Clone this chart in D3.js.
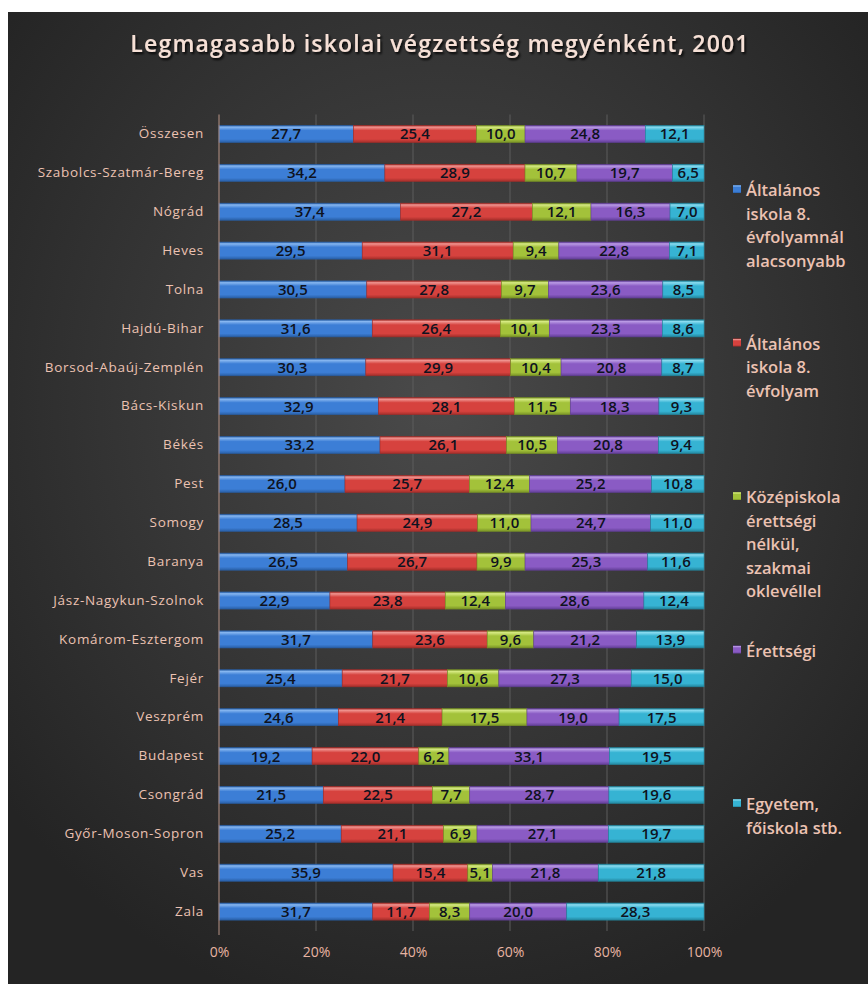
<!DOCTYPE html>
<html>
<head>
<meta charset="utf-8">
<script src="https://cdn.jsdelivr.net/npm/d3@7"></script>
<style>
  body { margin:0; background:#fff; }
  svg { display:block; }
</style>
</head>
<body>
<div id="chart"></div>
<script>
(function(){

	// megyék (felülről lefelé)
	var categories = ["Összesen","Szabolcs-Szatmár-Bereg","Nógrád","Heves","Tolna","Hajdú-Bihar",
		"Borsod-Abaúj-Zemplén","Bács-Kiskun","Békés","Pest","Somogy","Baranya",
		"Jász-Nagykun-Szolnok","Komárom-Esztergom","Fejér","Veszprém","Budapest",
		"Csongrád","Győr-Moson-Sopron","Vas","Zala"];

	var alapfokAlatt = [27.7,34.2,37.4,29.5,30.5,31.6,30.3,32.9,33.2,26.0,28.5,26.5,22.9,31.7,25.4,24.6,19.2,21.5,25.2,35.9,31.7];
	var alapfok      = [25.4,28.9,27.2,31.1,27.8,26.4,29.9,28.1,26.1,25.7,24.9,26.7,23.8,23.6,21.7,21.4,22.0,22.5,21.1,15.4,11.7];
	var szakmai      = [10.0,10.7,12.1, 9.4, 9.7,10.1,10.4,11.5,10.5,12.4,11.0, 9.9,12.4, 9.6,10.6,17.5, 6.2, 7.7, 6.9, 5.1, 8.3];
	var erettsegi    = [24.8,19.7,16.3,22.8,23.6,23.3,20.8,18.3,20.8,25.2,24.7,25.3,28.6,21.2,27.3,19.0,33.1,28.7,27.1,21.8,20.0];
	var egyetem      = [12.1, 6.5, 7.0, 7.1, 8.5, 8.6, 8.7, 9.3, 9.4,10.8,11.0,11.6,12.4,13.9,15.0,17.5,19.5,19.6,19.7,21.8,28.3];

	var seriesKeys = ["a","b","c","d","e"];
	var seriesLabels = [
		["Általános","iskola 8.","évfolyamnál","alacsonyabb"],
		["Általános","iskola 8.","évfolyam"],
		["Középiskola","érettségi","nélkül,","szakmai","oklevéllel"],
		["Érettségi"],
		["Egyetem,","főiskola stb."]
	];
	var xTicks = [0,0.2,0.4,0.6,0.8,1];

	// [alap, világos, sötét]
	var colors = [
		["#3c7ed6","#86b6f0","#295fa6"],
		["#d6423e","#f09490","#a42e2a"],
		["#a3c23a","#d6ea82","#7a9426"],
		["#8a5bc4","#b99ae4","#633f98"],
		["#36b3d3","#8adcf0","#23879f"]
	];

	var width = 868, height = 984;

	var rows = categories.map(function(c,i){
		return {cat:c, a:alapfokAlatt[i], b:alapfok[i], c:szakmai[i], d:erettsegi[i], e:egyetem[i]};
	});

	var svg = d3.select("div#chart").append("svg")
		.attr("width",width)
		.attr("height",height);

	var defs = svg.append("defs");

	var bg = defs.append("radialGradient").attr("id","bg")
		.attr("cx","50%").attr("cy","40%").attr("r","65%");
	bg.append("stop").attr("offset","0%").attr("stop-color","#4a4a4a");
	bg.append("stop").attr("offset","100%").attr("stop-color","#242424");

	colors.forEach(function(c,i){
		var g = defs.append("linearGradient").attr("id","g"+i)
			.attr("x1",0).attr("y1",0).attr("x2",0).attr("y2",1);
		g.append("stop").attr("offset","0%").attr("stop-color",c[2]);
		g.append("stop").attr("offset","10%").attr("stop-color",c[1]);
		g.append("stop").attr("offset","30%").attr("stop-color",c[0]);
		g.append("stop").attr("offset","80%").attr("stop-color",c[0]);
		g.append("stop").attr("offset","100%").attr("stop-color",c[2]);
	});

	var sh = defs.append("filter").attr("id","shadow")
		.attr("x","-5%").attr("y","-20%").attr("width","110%").attr("height","150%");
	sh.append("feDropShadow").attr("dx",1.5).attr("dy",2).attr("stdDeviation",1.2)
		.attr("flood-color","#000").attr("flood-opacity",0.9);

	svg.append("rect")
		.attr("x",8).attr("y",12)
		.attr("width",width-8).attr("height",height-12)
		.attr("fill","url(#bg)");

	svg.append("text")
		.attr("x",440).attr("y",52)
		.attr("text-anchor","middle")
		.attr("font-family","'Open Sans', sans-serif")
		.attr("font-weight","600")
		.attr("font-size",23)
		.attr("letter-spacing",1.2)
		.attr("fill","#f6e0d6")
		.attr("filter","url(#shadow)")
		.text("Legmagasabb iskolai végzettség megyénként, 2001");

	var x = d3.scaleLinear().domain([0,1]).range([219,704]);
	var y = d3.scaleBand().domain(categories).range([114.5,931])
		.paddingInner(0.56).paddingOuter(0.28);

	// rácsvonalak
	svg.append("g").selectAll("line")
		.data(xTicks.slice(1))
		.enter().append("line")
		.attr("x1",function(d){ return x(d); })
		.attr("x2",function(d){ return x(d); })
		.attr("y1",114.5).attr("y2",931)
		.attr("stroke","#5c5c5c").attr("stroke-width",1);

	var stack = d3.stack().keys(seriesKeys).offset(d3.stackOffsetExpand);
	var series = stack(rows);

	var comma = function(v){ return d3.format(".1f")(v).replace(".",","); };

	var layer = svg.append("g").selectAll("g")
		.data(series)
		.enter().append("g");

	layer.selectAll("rect")
		.data(function(d){ return d; })
		.enter().append("rect")
		.attr("x",function(d){ return x(d[0]); })
		.attr("y",function(d){ return y(d.data.cat); })
		.attr("width",function(d){ return x(d[1]) - x(d[0]); })
		.attr("height",y.bandwidth())
		.attr("fill",function(d,i,n){ return "url(#g"+d3.select(n[i].parentNode).datum().index+")"; })
		.attr("stroke",function(d,i,n){ return colors[d3.select(n[i].parentNode).datum().index][2]; })
		.attr("stroke-width",0.6);

	layer.selectAll("text")
		.data(function(s){ return s.map(function(d){ return {d:d, key:s.key}; }); })
		.enter().append("text")
		.attr("x",function(o){ return (x(o.d[0]) + x(o.d[1]))/2; })
		.attr("y",function(o){ return y(o.d.data.cat) + y.bandwidth()/2 + 5.5; })
		.attr("text-anchor","middle")
		.attr("font-family","'Open Sans',sans-serif")
		.attr("font-weight","600")
		.attr("font-size",15)
		.attr("fill","#0e1220")
		.text(function(o){ return comma(o.d.data[o.key]); });

	// tengely
	svg.append("line")
		.attr("x1",x(0)).attr("x2",x(0))
		.attr("y1",114.5).attr("y2",935)
		.attr("stroke","#b89486").attr("stroke-width",1);

	var yAxis = d3.axisLeft(y).tickSize(0).tickPadding(15);
	var ya = svg.append("g").attr("transform","translate("+x(0)+",0)").call(yAxis);
	ya.select(".domain").remove();
	ya.selectAll("text")
		.attr("font-family","'Open Sans', sans-serif")
		.attr("font-size",13.5)
		.attr("letter-spacing",0.7)
		.attr("fill","#ecc2b2");

	var xAxis = d3.axisBottom(x).tickValues(xTicks).tickFormat(d3.format(".0%")).tickSize(0).tickPadding(16);
	var xa = svg.append("g").attr("transform","translate(0,931)").call(xAxis);
	xa.select(".domain").remove();
	xa.selectAll("text")
		.attr("font-family","'Open Sans',sans-serif")
		.attr("font-size",14)
		.attr("fill","#e8b4a2");

	// jelmagyarázat
	var legend = svg.append("g").selectAll("g")
		.data(seriesLabels)
		.enter().append("g")
		.attr("transform",function(d,i){ return "translate(733,"+(190 + i*153.5)+")"; });

	legend.append("rect")
		.attr("x",0).attr("y",-5)
		.attr("width",8).attr("height",8)
		.attr("fill",function(d,i){ return "url(#g"+i+")"; });

	legend.append("text")
		.attr("font-family","'Open Sans', sans-serif")
		.attr("font-weight","600")
		.attr("font-size",16.5)
		.attr("fill","#ecc2b2")
		.selectAll("tspan")
		.data(function(d){ return d; })
		.enter().append("tspan")
		.attr("x",13)
		.attr("y",function(d,i){ return 6 + i*23.5; })
		.text(function(d){ return d; });

})();
</script>
</body>
</html>
